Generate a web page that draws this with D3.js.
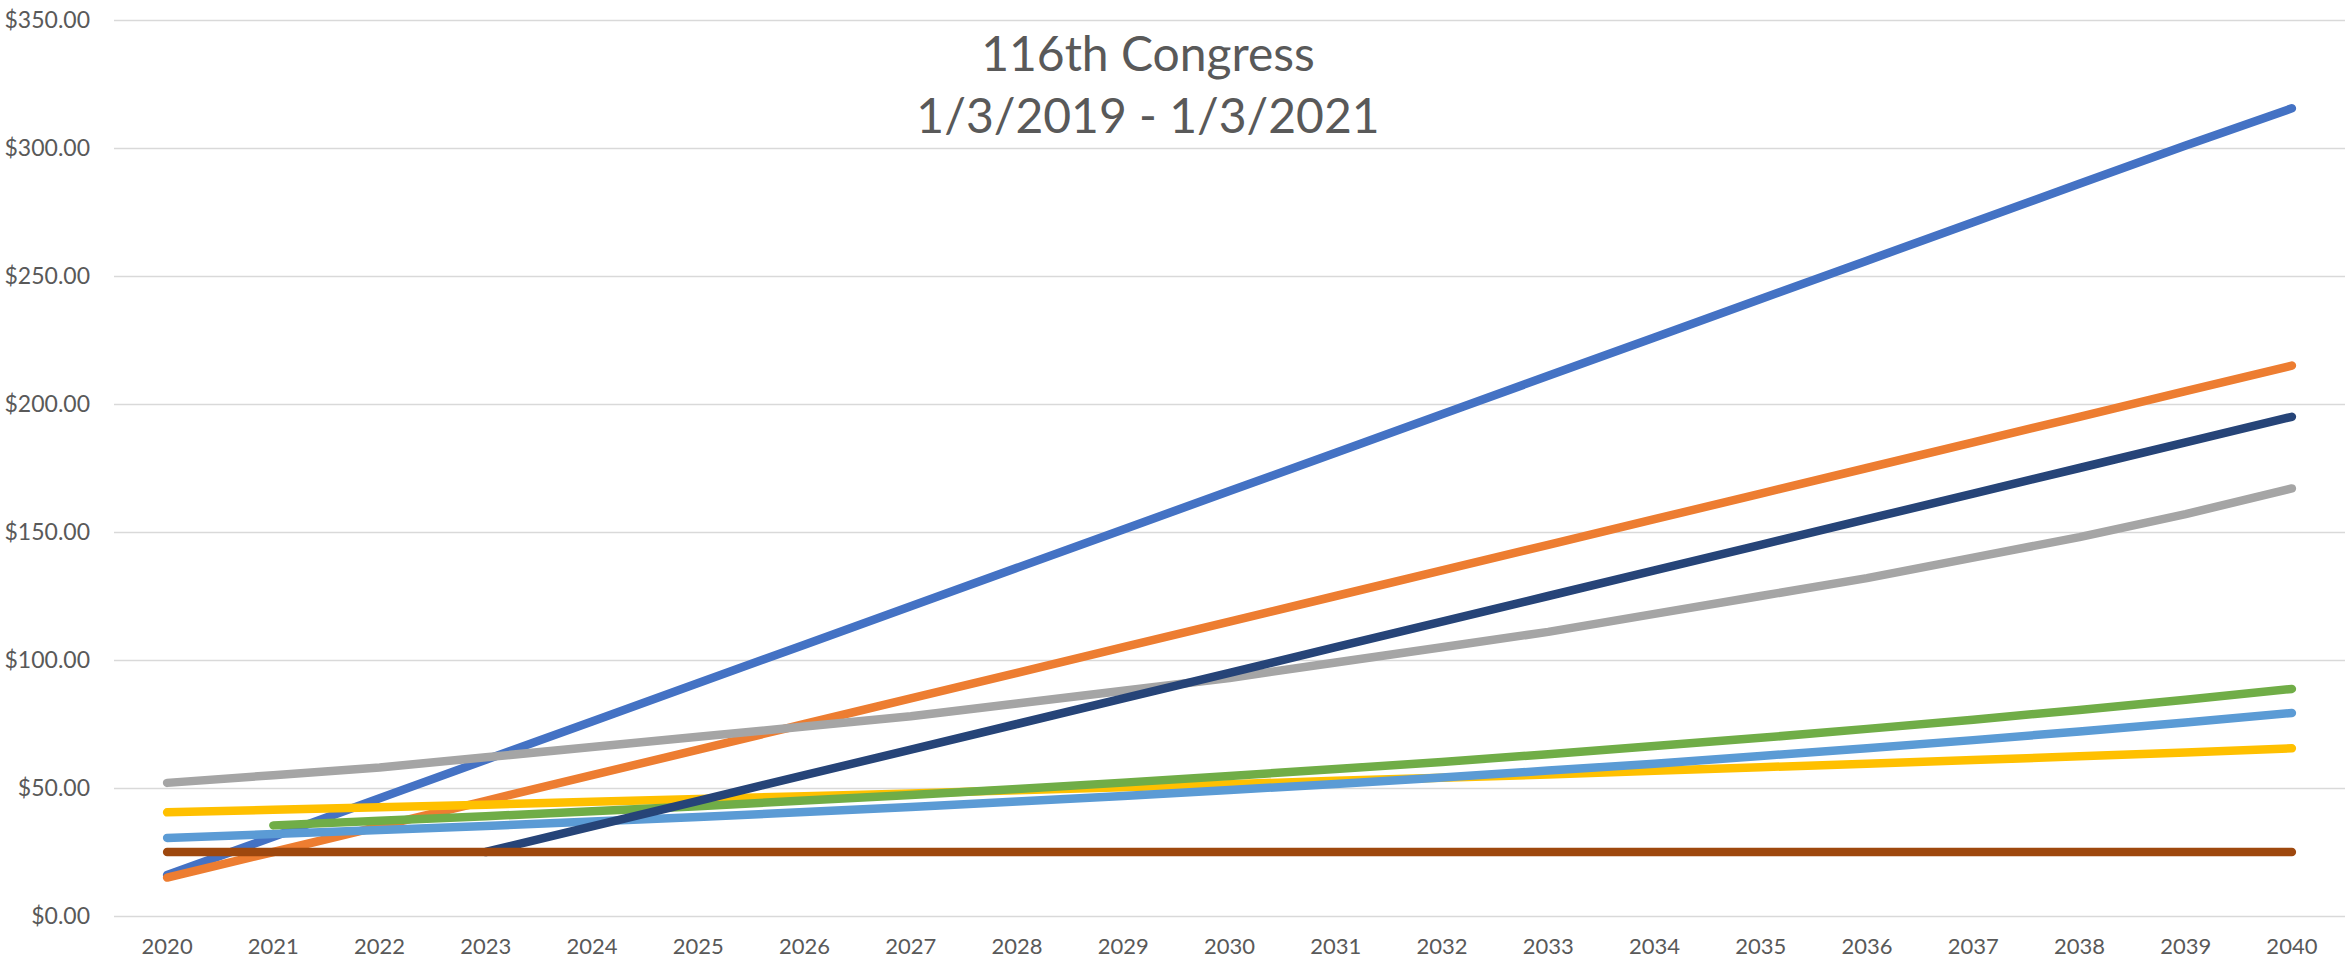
<!DOCTYPE html>
<html>
<head>
<meta charset="utf-8">
<script src="https://cdn.jsdelivr.net/npm/d3@7"></script>
<style>
    body { margin: 0; background: #fff; }
    .axis text { font-family: Lato, "Open Sans", sans-serif; fill: #595959; }
    .axis .domain { display: none; }
</style>
</head>
<body>
<div class="chart-container"></div>
<script>

let years = [2020, 2021, 2022, 2023, 2024, 2025, 2026, 2027, 2028, 2029, 2030,
    2031, 2032, 2033, 2034, 2035, 2036, 2037, 2038, 2039, 2040]

let yTicks = [0, 50, 100, 150, 200, 250, 300, 350]

let series1 = [16, 31, 46, 61, 76, 91, 106, 121, 136, 151, 166, 181, 196, 211, 226, 241, 256, 271, 286, 301, 315.5]
let series2 = [15, 25, 35, 45, 55, 65, 75, 85, 95, 105, 115, 125, 135, 145, 155, 165, 175, 185, 195, 205, 215]
let series3 = [52, 55, 58, 62, 66, 70, 74, 78, 83, 88, 93, 99, 105, 111, 118, 125, 132, 140, 148, 157, 167]
let series4 = [40.5, 41.5, 42.5, 43.5, 44.6, 45.7, 46.8, 47.9, 49.1, 50.3, 51.5, 52.8, 54, 55.3, 56.7, 58.1, 59.5, 60.9, 62.4, 63.9, 65.5]
let series5 = [30.5, 32, 33.6, 35.2, 36.9, 38.7, 40.6, 42.6, 44.7, 46.9, 49.2, 51.6, 54.1, 56.8, 59.5, 62.5, 65.5, 68.7, 72.1, 75.6, 79.3]
let series6 = [null, 35.4, 37.2, 39, 40.9, 42.9, 45.1, 47.3, 49.6, 52.1, 54.7, 57.4, 60.2, 63.2, 66.4, 69.6, 73.1, 76.7, 80.5, 84.5, 88.7]
let series7 = [null, null, null, 25, 35, 45, 55, 65, 75, 85, 95, 105, 115, 125, 135, 145, 155, 165, 175, 185, 195]
let series8 = [25, 25, 25, 25, 25, 25, 25, 25, 25, 25, 25, 25, 25, 25, 25, 25, 25, 25, 25, 25, 25]

let colors = ["#4472C4", "#ED7D31", "#A5A5A5", "#FFC000", "#5B9BD5", "#70AD47", "#264478", "#9E480E"]

let allSeries = [series1, series2, series3, series4, series5, series6, series7, series8]

const width = 2346
const height = 960
const plot = { left: 114, right: 2345, top: 20, bottom: 916 }

const svg = d3.select('.chart-container')
    .append('svg')
    .attr('width', width)
    .attr('height', height)

// Scales
const xScale = d3.scaleBand()
    .domain(years)
    .range([plot.left, plot.right])

const yScale = d3.scaleLinear()
    .domain([0, 350])
    .range([plot.bottom, plot.top])

const xPos = d => xScale(d) + xScale.bandwidth() / 2

// Axes
const yAxis = d3.axisLeft(yScale)
    .tickValues(yTicks)
    .tickFormat(d3.format('$.2f'))
    .tickSizeInner(-(plot.right - plot.left))
    .tickSizeOuter(0)
    .tickPadding(24)

const yAxisDraw = svg.append('g')
    .attr('class', 'y axis')
    .attr('transform', `translate(${plot.left}, 0)`)
    .call(yAxis)

yAxisDraw.selectAll('.tick line')
    .attr('stroke', '#D9D9D9')
    .attr('stroke-width', 1.6)
yAxisDraw.selectAll('text').style('font-size', '23px')

const xAxis = d3.axisBottom(xScale)
    .tickSize(0)
    .tickPadding(22)

const xAxisDraw = svg.append('g')
    .attr('class', 'x axis')
    .attr('transform', `translate(0, ${plot.bottom})`)
    .call(xAxis)

xAxisDraw.selectAll('text').style('font-size', '22px')

// Lines
const line = d3.line()
    .defined(d => d.value != null)
    .x(d => xPos(d.year))
    .y(d => yScale(d.value))

const lines = svg.append('g').attr('class', 'lines')

allSeries.forEach((s, i) => {
    lines.append('path')
        .datum(s.map((v, j) => ({ year: years[j], value: v })))
        .attr('fill', 'none')
        .attr('stroke', colors[i])
        .attr('stroke-width', 8.5)
        .attr('stroke-linecap', 'round')
        .attr('stroke-linejoin', 'round')
        .attr('d', line)
})

// Title
const title = svg.append('text')
    .attr('text-anchor', 'middle')
    .style('font-family', 'Lato, "Open Sans", sans-serif')
    .style('font-size', '48px')
    .attr('fill', '#595959')

title.append('tspan').attr('x', 1148).attr('y', 71).text('116th Congress')
title.append('tspan').attr('x', 1148).attr('y', 133).text('1/3/2019 - 1/3/2021')

</script>
</body>
</html>
